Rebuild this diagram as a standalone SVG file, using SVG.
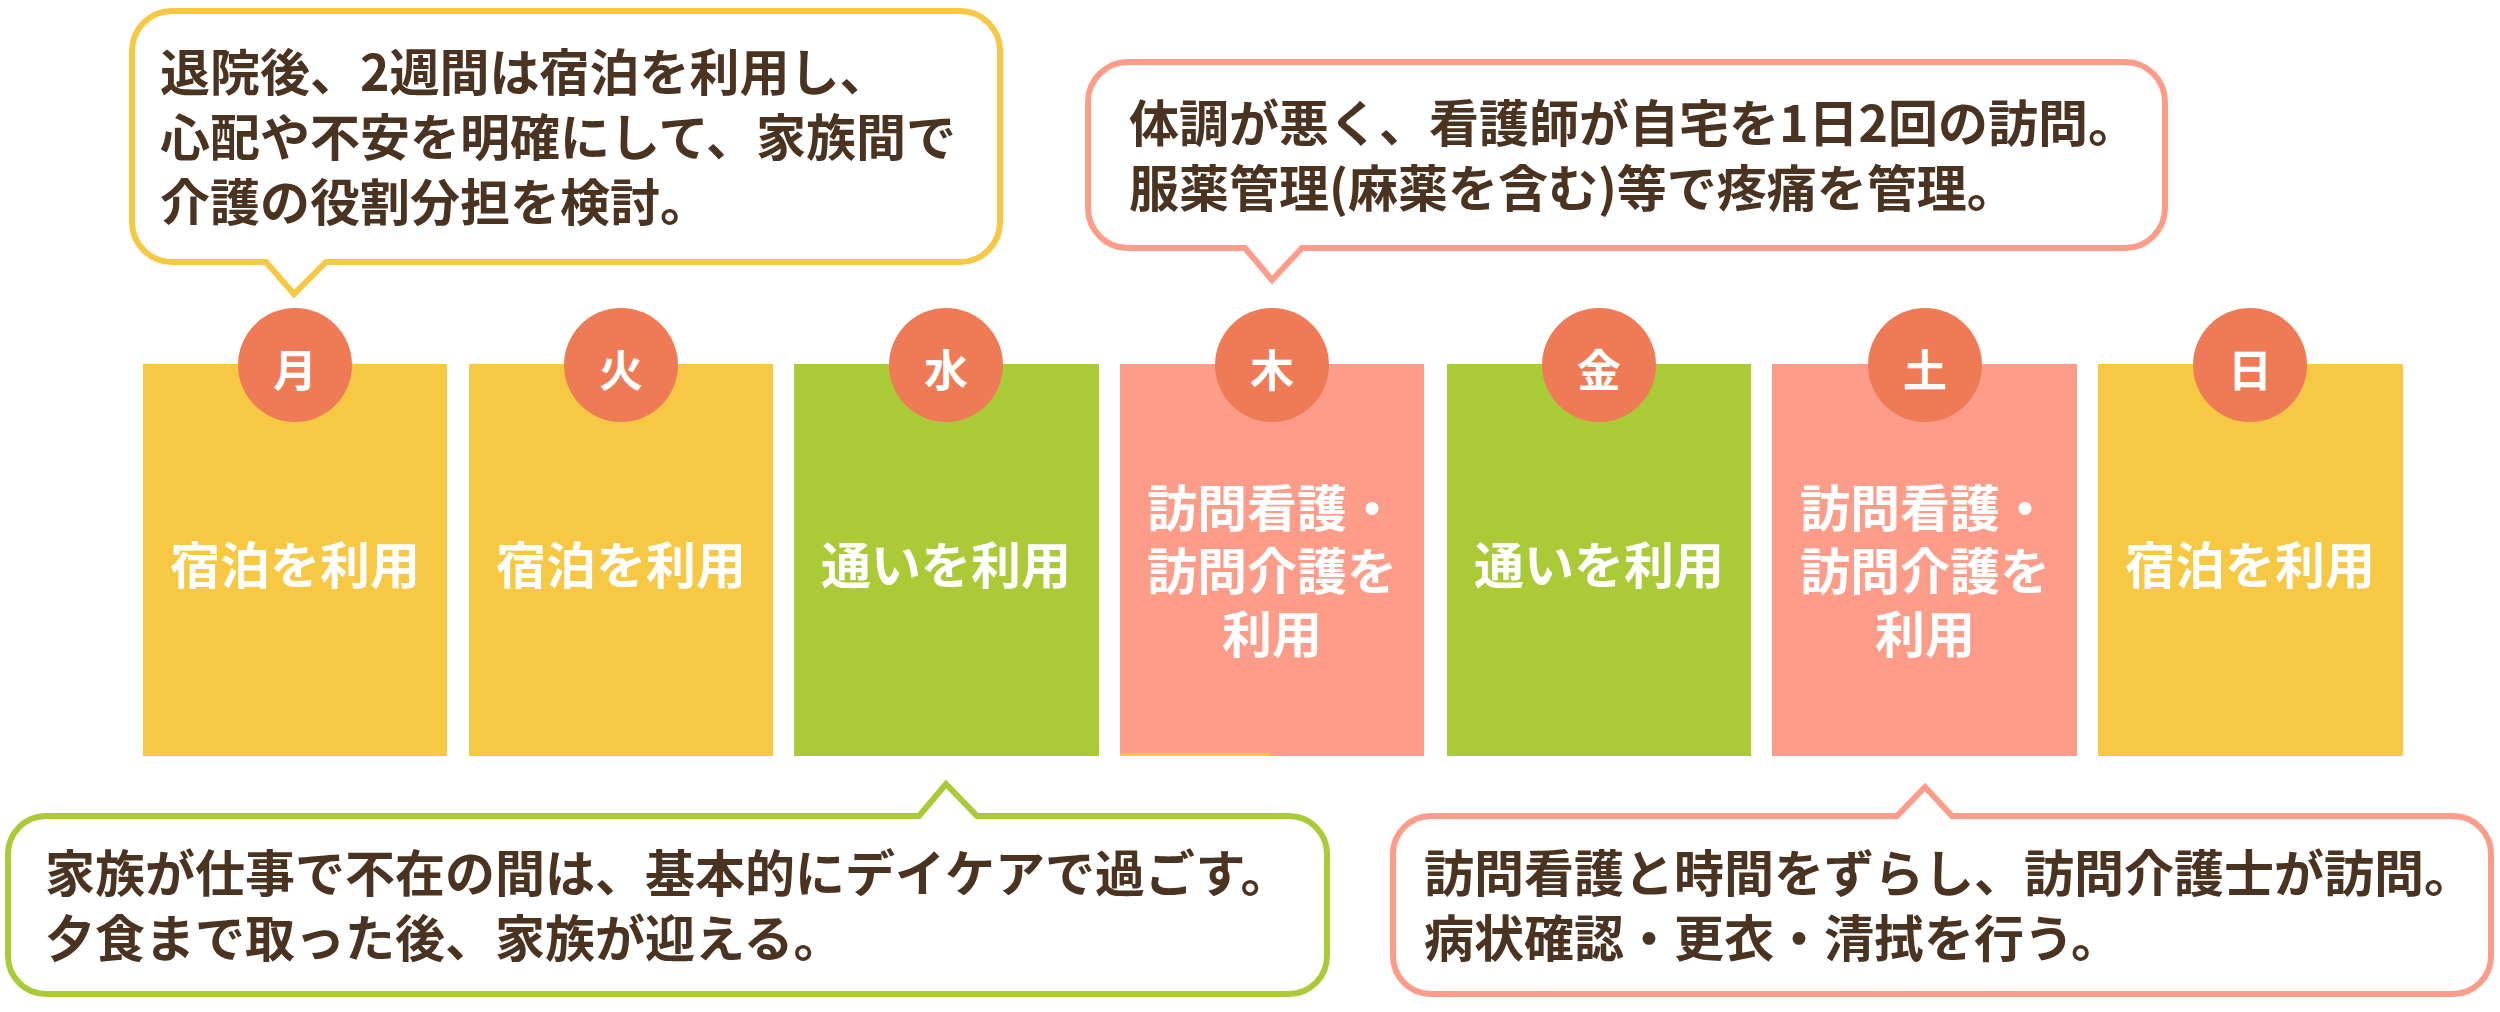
<svg xmlns="http://www.w3.org/2000/svg" width="2500" height="1012" viewBox="0 0 2500 1012">
<style>
.t{font-family:"Noto Sans CJK JP","Noto Sans",sans-serif;font-weight:700;}
.bt{font-size:50px;fill:#4a3421;}
.dt{font-size:50px;fill:#ffffff;text-anchor:middle;}
.ct{font-size:44px;fill:#ffffff;text-anchor:middle;}
.yel{fill:#f6c843;}
.grn{fill:#abca37;}
.sal{fill:#fe9c8a;}
.cir{fill:#ee7b56;}
.bub{fill:#ffffff;stroke-width:6;stroke-linejoin:miter;}
</style>
<rect width="2500" height="1012" fill="#ffffff"/>

<g id="day-mon">
<rect class="yel" x="143" y="364" width="304" height="392"/>
<circle class="cir" cx="295" cy="365" r="57"/>
<text class="t ct" x="295" y="387">月</text>
<text class="t dt" x="295" y="584">宿泊を利用</text>
</g>
<g id="day-tue">
<rect class="yel" x="469" y="364" width="304" height="392"/>
<circle class="cir" cx="621" cy="365" r="57"/>
<text class="t ct" x="621" y="387">火</text>
<text class="t dt" x="621" y="584">宿泊を利用</text>
</g>
<g id="day-wed">
<rect class="grn" x="794" y="364" width="305" height="392"/>
<circle class="cir" cx="946" cy="365" r="57"/>
<text class="t ct" x="946" y="387">水</text>
<text class="t dt" x="946" y="584">通いを利用</text>
</g>
<g id="day-thu">
<rect class="sal" x="1120" y="364" width="304" height="392"/>
<rect class="yel" x="1120" y="753" width="150" height="3"/>
<circle class="cir" cx="1272" cy="365" r="57"/>
<text class="t ct" x="1272" y="387">木</text>
<text class="t dt" x="1272" y="527">訪問看護・<tspan x="1272" dy="63">訪問介護を</tspan><tspan x="1272" dy="63">利用</tspan></text>
</g>
<g id="day-fri">
<rect class="grn" x="1447" y="364" width="304" height="392"/>
<circle class="cir" cx="1599" cy="365" r="57"/>
<text class="t ct" x="1599" y="387">金</text>
<text class="t dt" x="1599" y="584">通いを利用</text>
</g>
<g id="day-sat">
<rect class="sal" x="1772" y="364" width="305" height="392"/>
<circle class="cir" cx="1925" cy="365" r="57"/>
<text class="t ct" x="1925" y="387">土</text>
<text class="t dt" x="1925" y="527">訪問看護・<tspan x="1925" dy="63">訪問介護を</tspan><tspan x="1925" dy="63">利用</tspan></text>
</g>
<g id="day-sun">
<rect class="yel" x="2098" y="364" width="305" height="392"/>
<circle class="cir" cx="2250" cy="365" r="57"/>
<text class="t ct" x="2250" y="387">日</text>
<text class="t dt" x="2250" y="584">宿泊を利用</text>
</g>

<g id="note-mon">
<path class="bub" stroke="#f6c843" d="M172,11 H960 A40,40 0 0 1 1000,51 V222 A40,40 0 0 1 960,262 H326 L294,294 L266,262 H172 A40,40 0 0 1 132,222 V51 A40,40 0 0 1 172,11 Z"/>
<text class="t bt" x="160" y="91">退院後、2週間は宿泊を利用し、<tspan x="160" dy="65">心配や不安を明確にして、家族間で</tspan><tspan x="160" dy="65">介護の役割分担を検討。</tspan></text>
</g>

<g id="note-thu">
<path class="bub" stroke="#fe9c8a" d="M1128,62 H2125 A40,40 0 0 1 2165,102 V208 A40,40 0 0 1 2125,248 H1302 L1272,280 L1245,248 H1128 A40,40 0 0 1 1088,208 V102 A40,40 0 0 1 1128,62 Z"/>
<text class="t bt" x="1129" y="142">体調が悪く、看護師が自宅を1日2回の訪問。<tspan x="1129" dy="65">服薬管理(麻薬を含む)等で疼痛を管理。</tspan></text>
</g>

<g id="note-wed">
<path class="bub" stroke="#abca37" d="M46,816 H919 L946,784 L977,816 H1289 A38,38 0 0 1 1327,854 V956 A38,38 0 0 1 1289,994 H46 A38,38 0 0 1 8,956 V854 A38,38 0 0 1 46,816 Z"/>
<text class="t bt" x="45" y="892">家族が仕事で不在の間は、基本的にデイケアで過ごす。<tspan x="45" dy="65">夕食まで取った後、家族が迎える。</tspan></text>
</g>

<g id="note-sat">
<path class="bub" stroke="#fe9c8a" d="M1431,816 H1897 L1925,787 L1952,816 H2453 A38,38 0 0 1 2491,854 V956 A38,38 0 0 1 2453,994 H1431 A38,38 0 0 1 1393,956 V854 A38,38 0 0 1 1431,816 Z"/>
<text class="t bt" x="1424" y="892">訪問看護と時間をずらし、訪問介護士が訪問。<tspan x="1424" dy="65">病状確認・更衣・清拭を行う。</tspan></text>
</g>
</svg>
